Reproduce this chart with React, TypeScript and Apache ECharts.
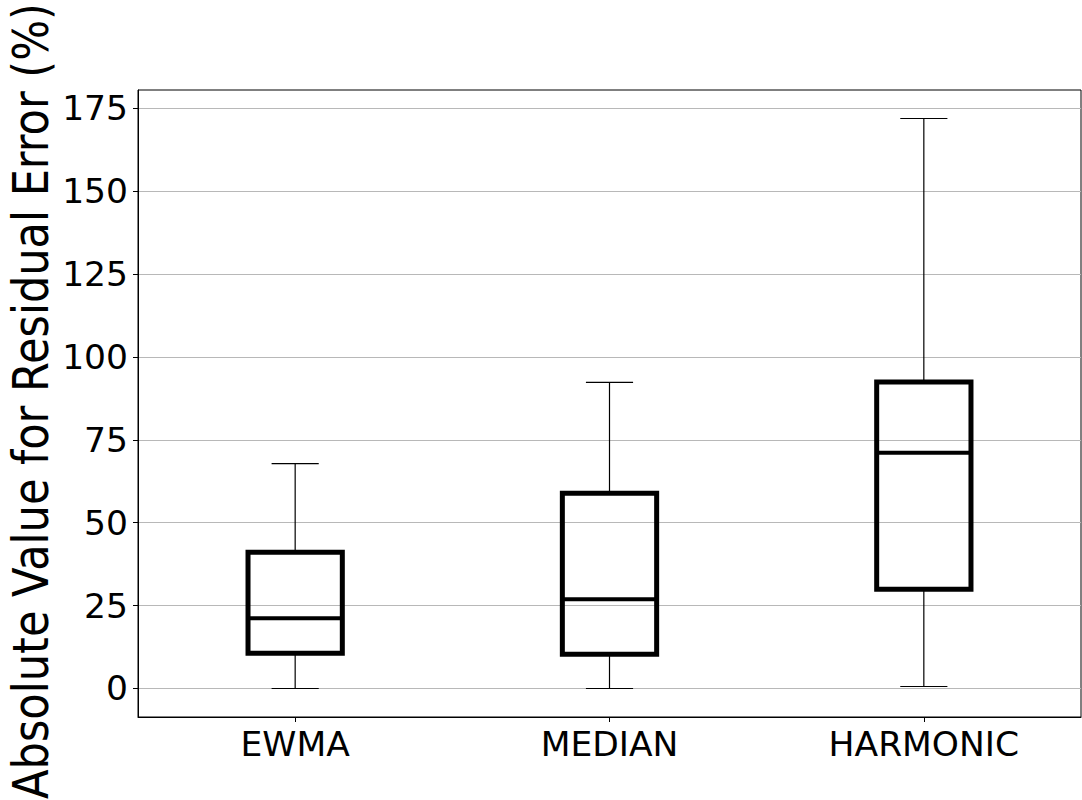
import React, { useEffect, useRef } from "react";
import * as echarts from "echarts";

// Box-plot summary per smoothing method (values in %)
const categories = ["EWMA", "MEDIAN", "HARMONIC"];
const whiskerLow = [0, 0, 0.6];
const q1 = [10.6, 10.3, 29.9];
const medians = [21.2, 26.9, 71.1];
const q3 = [41.1, 58.9, 92.4];
const whiskerHigh = [67.8, 92.3, 171.9];
const yTicks = [0, 25, 50, 75, 100, 125, 150, 175];

const yMin = -8.6;
const yMax = 180.5;
const FONT = "DejaVu Sans";

export default function App() {
  const ref = useRef<HTMLDivElement>(null);

  useEffect(() => {
    document.body.style.margin = "0";
    const chart = echarts.init(ref.current!, null, { renderer: "svg" });

    const boxData = categories.map((_, i) => [
      i,
      whiskerLow[i],
      q1[i],
      medians[i],
      q3[i],
      whiskerHigh[i],
    ]);

    const renderBox = (params: any, api: any) => {
      const idx = api.value(0);
      const pLow = api.coord([idx, api.value(1)]);
      const pQ1 = api.coord([idx, api.value(2)]);
      const pMed = api.coord([idx, api.value(3)]);
      const pQ3 = api.coord([idx, api.value(4)]);
      const pHigh = api.coord([idx, api.value(5)]);
      const band = api.size([1, 0])[0];
      const boxW = band * 0.3;
      const capW = boxW / 2;
      const x = pMed[0];
      const thin = { stroke: "#000", lineWidth: 1.2 };
      return {
        type: "group",
        children: [
          { type: "line", shape: { x1: x, y1: pLow[1], x2: x, y2: pQ1[1] }, style: thin },
          { type: "line", shape: { x1: x, y1: pQ3[1], x2: x, y2: pHigh[1] }, style: thin },
          { type: "line", shape: { x1: x - capW / 2, y1: pLow[1], x2: x + capW / 2, y2: pLow[1] }, style: thin },
          { type: "line", shape: { x1: x - capW / 2, y1: pHigh[1], x2: x + capW / 2, y2: pHigh[1] }, style: thin },
          {
            type: "rect",
            shape: { x: x - boxW / 2, y: pQ3[1], width: boxW, height: pQ1[1] - pQ3[1] },
            style: { fill: "none", stroke: "#000", lineWidth: 5, lineJoin: "miter" },
          },
          {
            type: "line",
            shape: { x1: x - boxW / 2, y1: pMed[1], x2: x + boxW / 2, y2: pMed[1] },
            style: { stroke: "#000", lineWidth: 4 },
          },
        ],
      };
    };

    chart.setOption({
      animation: false,
      backgroundColor: "#fff",
      grid: {
        left: 138,
        right: 1,
        top: 90,
        bottom: 83,
        show: true,
        borderColor: "#000",
        borderWidth: 1,
        backgroundColor: "transparent",
      },
      xAxis: {
        type: "category",
        data: categories,
        boundaryGap: true,
        axisLine: { show: true, onZero: false, lineStyle: { color: "#000", width: 1 } },
        axisTick: { show: true, alignWithLabel: true, length: 5, lineStyle: { color: "#000" } },
        axisLabel: { color: "#000", fontFamily: FONT, fontSize: 34.5, margin: 9 },
        splitLine: { show: false },
      },
      yAxis: {
        type: "value",
        min: yMin,
        max: yMax,
        axisLine: { show: true, lineStyle: { color: "#000", width: 1 } },
        axisTick: { show: true, length: 5, customValues: yTicks, lineStyle: { color: "#000" } },
        axisLabel: { color: "#000", fontFamily: FONT, fontSize: 34.5, margin: 10, customValues: yTicks },
        splitLine: { show: true, lineStyle: { color: "#b8b8b8", width: 1 } },
      },
      graphic: [
        {
          type: "text",
          x: 31,
          y: 401,
          rotation: Math.PI / 2,
          scaleX: 0.862,
          style: {
            text: "Absolute Value for Residual Error (%)",
            fontFamily: FONT,
            fontSize: 50,
            fill: "#000",
            textAlign: "center",
            textVerticalAlign: "middle",
          },
        },
      ],
      series: [
        {
          type: "custom",
          renderItem: renderBox,
          data: boxData,
          encode: { x: 0, y: [1, 2, 3, 4, 5] },
          clip: false,
          z: 5,
        },
      ],
    });

    return () => chart.dispose();
  }, []);

  return <div ref={ref} style={{ width: 1082, height: 800 }} />;
}
